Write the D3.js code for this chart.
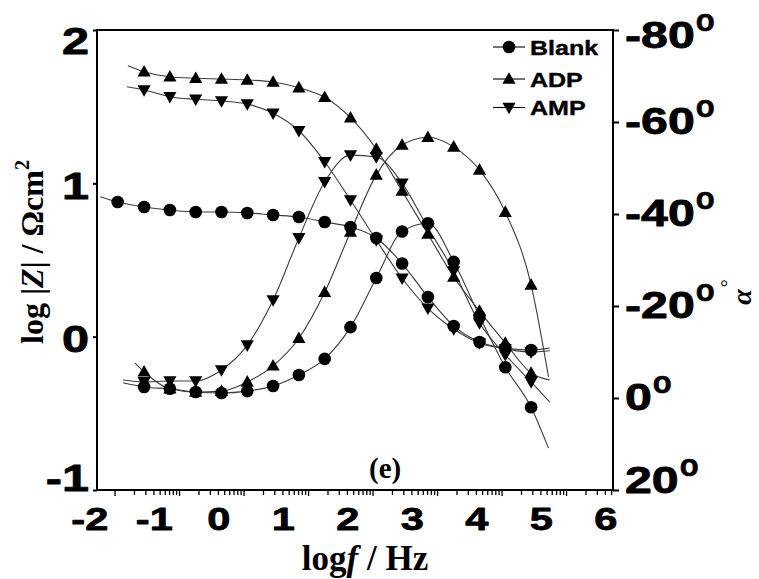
<!DOCTYPE html>
<html>
<head>
<meta charset="utf-8">
<script src="https://cdn.jsdelivr.net/npm/d3@7"></script>
<style>
  body { margin: 0; background: #fff; }
  svg { display: block; }
</style>
</head>
<body>
<svg id="chart" width="759" height="579"></svg>
<script>
// ---- data -------------------------------------------------------------
// log of the measuring frequency (Hz)
const logF = [-1.15, -0.75, -0.35, 0.05, 0.45, 0.85, 1.25, 1.65, 2.05, 2.45, 2.85, 3.25, 3.65, 4.05, 4.45, 4.85];
const blankLogF = [-1.56, -1.15, -0.75, -0.35, 0.05, 0.45, 0.85, 1.25, 1.65, 2.05, 2.45, 2.85, 3.25, 3.65, 4.05, 4.45, 4.85];

// impedance modulus, log |Z| / Ω cm²
const blankZ = [0.878, 0.846, 0.826, 0.813, 0.813, 0.807, 0.793, 0.780, 0.748, 0.715, 0.643, 0.477, 0.259, 0.070, -0.035, -0.074, -0.087];
const adpZ   = [1.728, 1.695, 1.685, 1.680, 1.674, 1.661, 1.624, 1.561, 1.428, 1.224, 0.950, 0.670, 0.389, 0.167, -0.041, -0.237];
const ampZ   = [1.609, 1.565, 1.548, 1.537, 1.517, 1.457, 1.343, 1.141, 0.891, 0.630, 0.381, 0.185, 0.050, -0.041, -0.080, -0.100];

// phase angle α, degrees
const blankPhase = [-2.4, -2.0, -1.3, -1.1, -1.5, -2.6, -5.0, -8.5, -15.4, -26.1, -36.2, -38.0, -29.6, -17.8, -6.7, 2.0];
const adpPhase   = [-5.7, -2.0, -1.3, -1.5, -3.5, -7.0, -13.0, -23.0, -36.1, -48.5, -55.0, -56.7, -54.6, -49.6, -40.4, -24.6];
const ampPhase   = [-3.5, -3.7, -3.7, -6.1, -11.5, -21.3, -34.8, -47.0, -52.8, -52.4, -46.7, -37.0, -27.6, -16.3, -9.4, -3.5];

// fitted curves run a little beyond the measured range: [logF, value] at each end
const blankZFitEnds     = [[-1.83, 0.913], [5.14, -0.074]];
const adpZFitEnds       = [[-1.40, 1.767], [5.14, -0.283]];
const ampZFitEnds       = [[-1.415, 1.630], [5.14, -0.092]];
const blankPhaseFitEnds = [[-1.476, -3.3], [5.12, 10.9]];
const adpPhaseFitEnds   = [[-1.29, -7.6], [5.12, -4.6]];
const ampPhaseFitEnds   = [[-1.476, -3.9], [5.14, 0.9]];

// axes
const xTicks = [-2, -1, 0, 1, 2, 3, 4, 5, 6];
const zTicks = [-1, 0, 1, 2];
const phaseTicks = [-80, -60, -40, -20, 0, 20];
const legendNames = ["Blank", "ADP", "AMP"];

// ---- layout -----------------------------------------------------------
const svg = d3.select("#chart");
const L = 97, T = 30, R = 613, B = 490;

const x = d3.scaleLinear().domain([-1.88, 6.12]).range([L, R]);
const yZ = d3.scaleLinear().domain([-1, 2]).range([B, T]);
const yP = d3.scaleLinear().domain([20, -80]).range([B, T]);

const sansBold = "'Liberation Sans', Arial, sans-serif";
const serif = "'Liberation Serif', 'Times New Roman', serif";
const plain = d => String(d);   // ASCII hyphen for negatives

// widen bold sans glyphs the way the heavy axis lettering appears
function stretch(sel, k) {
  sel.each(function () {
    const w = this.getComputedTextLength();
    this.setAttribute("textLength", w * k);
    this.setAttribute("lengthAdjust", "spacingAndGlyphs");
  });
}
// extra weight for the heavy tick lettering
function heavy(sel, w) {
  sel.attr("stroke", "#000").attr("stroke-width", w).attr("stroke-linejoin", "round");
}

// marker shapes
const markerPath = {
  circle: d3.symbol().type(d3.symbolCircle).size(Math.PI * 6.3 * 6.3)(),
  up: "M0,-6.8L6.6,4.8L-6.6,4.8Z",
  down: "M0,6.8L6.6,-4.8L-6.6,-4.8Z"
};

const series = [
  { xs: blankLogF, ys: blankZ, scale: yZ, marker: "circle", ends: blankZFitEnds },
  { xs: logF, ys: adpZ, scale: yZ, marker: "up", ends: adpZFitEnds },
  { xs: logF, ys: ampZ, scale: yZ, marker: "down", ends: ampZFitEnds },
  { xs: logF, ys: blankPhase, scale: yP, marker: "circle", ends: blankPhaseFitEnds },
  { xs: logF, ys: adpPhase, scale: yP, marker: "up", ends: adpPhaseFitEnds },
  { xs: logF, ys: ampPhase, scale: yP, marker: "down", ends: ampPhaseFitEnds }
];

// ---- fitted curves ----------------------------------------------------
const gLines = svg.append("g");
series.forEach(s => {
  const pts = [s.ends[0], ...s.xs.map((v, i) => [v, s.ys[i]]), s.ends[1]];
  const line = d3.line()
    .x(d => x(d[0]))
    .y(d => s.scale(d[1]))
    .curve(d3.curveMonotoneX);
  gLines.append("path")
    .attr("d", line(pts))
    .attr("fill", "none")
    .attr("stroke", "#3c3c3c")
    .attr("stroke-width", 1.1);
});

// ---- markers ----------------------------------------------------------
const gPts = svg.append("g");
series.forEach(s => {
  gPts.selectAll(null)
    .data(s.xs.map((v, i) => [v, s.ys[i]]))
    .join("path")
    .attr("d", markerPath[s.marker])
    .attr("transform", d => `translate(${x(d[0])},${s.scale(d[1])})`)
    .attr("fill", "#000");
});

// ---- frame ------------------------------------------------------------
svg.append("rect")
  .attr("x", L).attr("y", T).attr("width", R - L).attr("height", B - T)
  .attr("fill", "none").attr("stroke", "#000").attr("stroke-width", 2);

// ---- left axis: log|Z| ------------------------------------------------
const axL = svg.append("g").attr("transform", `translate(${L},0)`)
  .call(d3.axisLeft(yZ).tickValues(zTicks).tickSize(4).tickFormat(plain));
axL.select(".domain").remove();
axL.selectAll("line").attr("stroke", "#000").attr("stroke-width", 2);
axL.selectAll("text")
  .attr("x", -8)
  .attr("dy", null)
  .attr("y", d => d === 2 ? 23 : d === -1 ? 0 : 15)
  .attr("font-family", sansBold).attr("font-weight", "bold")
  .attr("font-size", 36).attr("fill", "#000")
  .call(heavy, 0.8)
  .call(stretch, 1.35);

// ---- right axis: phase angle ------------------------------------------
const axR = svg.append("g").attr("transform", `translate(${R},0)`)
  .call(d3.axisRight(yP).tickValues(phaseTicks).tickSize(6).tickFormat(""));
axR.select(".domain").remove();
axR.selectAll("line").attr("stroke", "#000").attr("stroke-width", 2);

const gRL = svg.append("g");
phaseTicks.forEach(v => {
  const base = yP(v) + (v === -80 ? 18 : v === 20 ? 3 : 12);
  const t = gRL.append("text")
    .attr("x", 625).attr("y", base)
    .attr("font-family", sansBold).attr("font-weight", "bold")
    .attr("font-size", 36).attr("fill", "#000")
    .text(plain(v))
    .call(heavy, 0.8);
  stretch(t, 1.34);
  const w = +t.attr("textLength");
  gRL.append("text")
    .attr("x", 625 + w + 1).attr("y", base - 17)
    .attr("font-family", sansBold).attr("font-weight", "bold")
    .attr("font-size", 31).attr("fill", "#000")
    .text("o")
    .call(heavy, 0.6);
});

// ---- bottom axis: log f -----------------------------------------------
const axB = svg.append("g").attr("transform", `translate(0,${B})`)
  .call(d3.axisBottom(x).tickValues(xTicks).tickSize(0).tickFormat(plain));
axB.select(".domain").remove();
axB.selectAll("text")
  .attr("y", 40).attr("dy", null)
  .attr("font-family", sansBold).attr("font-weight", "bold")
  .attr("font-size", 32).attr("fill", "#000")
  .call(heavy, 0.8)
  .call(stretch, 1.3);

// decade and sub-decade ticks of the frequency scale
const decadeStart = -1.60;
const minorTicks = [];
for (let k = 0; k < 8; k++) {
  for (let m = 1; m <= 9; m++) {
    const v = decadeStart + k + Math.log10(m);
    if (v <= x.domain()[1]) minorTicks.push({ v, major: m === 1 });
  }
}
svg.append("g").selectAll("line")
  .data(minorTicks)
  .join("line")
  .attr("x1", d => x(d.v)).attr("x2", d => x(d.v))
  .attr("y1", B).attr("y2", d => B + (d.major ? 6 : 5))
  .attr("stroke", "#000").attr("stroke-width", 1.3);

// ---- axis titles ------------------------------------------------------
const titleL = svg.append("text")
  .attr("transform", "translate(43,252) rotate(-90)")
  .attr("text-anchor", "middle")
  .attr("font-family", serif).attr("font-weight", "bold")
  .attr("font-size", 32).attr("fill", "#000");
titleL.append("tspan").text("log |");
titleL.append("tspan").attr("font-style", "italic").text("Z");
titleL.append("tspan").text("| / Ωcm");
titleL.append("tspan").attr("font-size", 20).attr("dy", -14).text("2");

const titleB = svg.append("text")
  .attr("x", 365).attr("y", 570)
  .attr("text-anchor", "middle")
  .attr("font-family", serif).attr("font-weight", "bold")
  .attr("font-size", 35).attr("fill", "#000");
titleB.append("tspan").text("log");
titleB.append("tspan").attr("font-style", "italic").text("f");
titleB.append("tspan").text(" / Hz");

const titleR = svg.append("text")
  .attr("transform", "translate(751,292) rotate(-90)")
  .attr("text-anchor", "middle")
  .attr("font-family", serif).attr("font-weight", "bold")
  .attr("font-size", 28).attr("fill", "#000");
titleR.append("tspan").attr("font-style", "italic").text("α");
titleR.append("tspan").attr("dy", -16).attr("dx", 2).attr("font-size", 20).attr("font-weight", "normal").text("°");

// panel tag
svg.append("text")
  .attr("x", 369).attr("y", 478)
  .attr("font-family", serif).attr("font-weight", "bold")
  .attr("font-size", 29).attr("fill", "#000")
  .text("(e)");

// ---- legend -----------------------------------------------------------
const legMarkers = ["circle", "up", "down"];
const legY = [47, 79, 107.5];
const gLeg = svg.append("g");
legendNames.forEach((name, i) => {
  const y = legY[i];
  gLeg.append("line")
    .attr("x1", 493).attr("x2", 525).attr("y1", y).attr("y2", y)
    .attr("stroke", "#000").attr("stroke-width", 1.1);
  gLeg.append("path")
    .attr("d", markerPath[legMarkers[i]])
    .attr("transform", `translate(509,${y})`)
    .attr("fill", "#000");
  const t = gLeg.append("text")
    .attr("x", 530).attr("y", y + 7.5)
    .attr("font-family", sansBold).attr("font-weight", "bold")
    .attr("font-size", 20).attr("fill", "#000")
    .text(name)
    .call(heavy, 0.4);
  stretch(t, 1.25);
});
</script>
</body>
</html>
